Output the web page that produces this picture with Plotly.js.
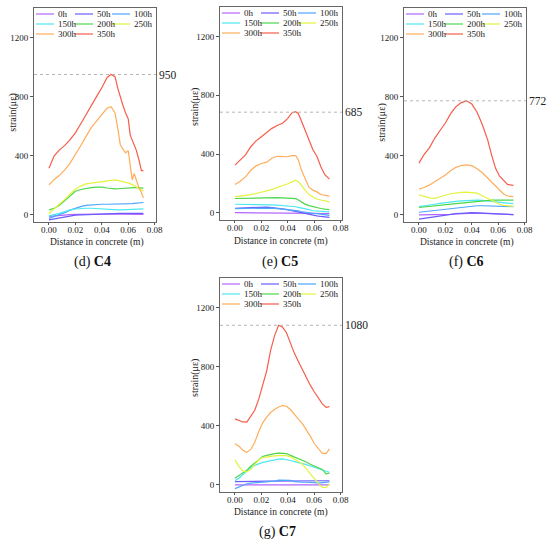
<!DOCTYPE html>
<html><head><meta charset="utf-8">
<script src="https://cdn.plot.ly/plotly-3.0.1.min.js"></script>
<style>html,body{margin:0;padding:0;background:#fff}#chart{width:550px;height:544px}</style>
</head><body><div id="chart"></div>
<script>
// ---------- data ----------
const seriesNames = ['0h','50h','100h','150h','200h','250h','300h','350h'];
const seriesColors = ['#b266ff','#6a5cff','#4da6ff','#4de8f0','#4cd64c','#e3f23f','#ffad5c','#f55d4a'];
const xTicks = [0, 0.02, 0.04, 0.06, 0.08];
const yTicks = [0, 400, 800, 1200];

// C4
const c4X    = [0,0.004,0.008,0.012,0.016,0.020,0.024,0.028,0.032,0.036,0.040,0.044,0.047,0.050,0.052,0.054,0.056,0.058,0.060,0.0615,0.063,0.0645,0.066,0.068,0.070,0.0715];
const c4S0   = [-10,-6,-3,0,2,3,4,5,6,7,7,7,6,6,5,5,5,5,5,5,4,4,4,4,4,4];
const c4S50  = [-34,-27,-20,-12,-6,-2,0,2,4,6,7,8,9,10,10,11,11,11,11,11,11,11,11,11,11,11];
const c4S100 = [-23,-12,0,15,32,45,56,64,68,71,72,72,72,72,72,72,73,74,75,75,76,78,80,82,84,84];
const c4S150 = [-7,0,10,22,34,40,45,45,45,42,38,36,34,34,34,34,35,36,37,38,38,39,40,40,41,41];
const c4S200 = [34,45,65,95,130,160,172,180,185,188,188,182,177,176,177,179,181,183,185,185,185,185,185,185,184,181];
const c4S250 = [10,40,70,105,140,175,195,210,215,220,225,230,235,237,234,228,224,220,217,213,205,198,190,180,170,160];
const c4S300 = [203,240,268,305,350,405,468,530,590,635,680,723,732,690,590,475,445,420,435,340,237,280,235,185,150,115];
const c4S350 = [316,400,440,470,510,555,615,680,740,800,860,930,950,935,860,790,740,690,650,540,508,470,440,375,300,300];

// C5
const c5X    = [0,0.004,0.008,0.012,0.016,0.020,0.024,0.028,0.032,0.036,0.040,0.043,0.046,0.048,0.050,0.053,0.056,0.059,0.062,0.065,0.068,0.0715];
const c5S0   = [2,2,2,2,1,1,1,1,0,0,0,0,-1,-1,-1,-2,-2,-3,-3,-4,-4,-5];
const c5S50  = [32,34,35,37,39,41,40,37,33,28,23,16,10,7,3,-6,-11,-16,-20,-24,-27,-30];
const c5S100 = [30,31,32,34,35,36,35,33,30,27,25,21,16,14,10,4,0,-3,-5,-8,-12,-16];
const c5S150 = [59,59,59,58,58,57,56,55,53,51,48,45,42,38,35,30,22,15,12,10,8,7];
const c5S200 = [98,99,100,102,104,105,105,105,104,102,100,99,97,88,75,60,50,42,35,30,26,23];
const c5S250 = [109,113,117,124,132,139,150,160,172,185,198,211,222,213,193,155,125,108,95,88,80,75];
const c5S300 = [193,215,245,290,320,336,345,372,385,385,382,390,390,360,300,235,175,155,143,125,118,114];
const c5S350 = [325,358,395,450,490,518,545,575,595,610,643,680,688,675,632,565,495,430,385,314,260,230];

// C6
const c6X    = [0,0.004,0.008,0.012,0.016,0.020,0.024,0.028,0.032,0.036,0.040,0.044,0.048,0.052,0.055,0.058,0.061,0.064,0.067,0.0715];
const c6S0   = [0,0,0,1,2,3,4,6,8,10,12,12,10,8,6,5,4,3,2,2];
const c6S50  = [-29,-23,-17,-11,-5,0,4,8,11,14,15,14,12,10,9,8,7,6,4,2];
const c6S100 = [18,22,27,32,37,41,45,49,53,57,60,62,62,61,60,59,58,57,56,56];
const c6S150 = [56,60,66,72,78,84,88,92,95,98,100,100,98,95,92,88,85,82,79,76];
const c6S200 = [50,53,56,60,64,68,72,76,80,84,88,92,96,98,100,100,100,100,100,100];
const c6S250 = [136,125,115,112,120,133,143,149,152,154,152,147,130,113,100,82,72,64,60,58];
const c6S300 = [174,185,203,226,245,270,298,322,334,339,333,312,285,249,222,192,163,142,128,124];
const c6S350 = [350,410,455,520,571,622,685,732,760,772,750,695,610,508,405,315,262,232,206,200];

// C7
const c7X    = [0,0.003,0.006,0.009,0.012,0.015,0.018,0.021,0.024,0.027,0.030,0.033,0.036,0.039,0.042,0.045,0.048,0.051,0.054,0.057,0.060,0.063,0.066,0.069,0.0715];
const c7S0   = [0,0,0,0,0,0,0,0,1,1,1,1,1,1,1,1,0,0,0,0,0,0,0,0,0];
const c7S50  = [22,23,24,25,25,25,25,25,25,25,25,25,25,25,25,25,25,25,25,25,25,25,25,25,28];
const c7S100 = [-25,-15,-2,8,12,14,15,15,16,18,25,32,33,33,30,22,18,18,18,18,15,12,14,18,20];
const c7S150 = [29,45,70,95,118,132,143,152,158,164,170,175,176,172,165,158,152,145,137,128,120,112,103,92,86];
const c7S200 = [45,62,80,100,126,150,172,192,200,208,212,215,215,212,200,190,180,168,155,140,128,118,105,75,80];
const c7S250 = [169,125,95,88,105,140,170,185,190,193,196,198,199,198,190,176,158,140,110,80,45,10,-15,-18,7];
const c7S300 = [278,262,235,220,240,289,360,420,458,490,510,527,537,532,510,481,445,415,375,330,280,245,215,212,244];
const c7S350 = [447,438,426,425,462,505,580,670,770,910,1010,1080,1068,1030,960,890,835,780,728,675,630,590,550,525,530];

const peakValues = [950, 685, 772, 1080];
const captionLetters = ['(d)', '(e)', '(f)', '(g)'];
const captionNames = ['C4', 'C5', 'C6', 'C7'];

// ---------- layout geometry (pixels) ----------
const W = 550, H = 544;
const panels = [
  {x: c4X, ys: [c4S0,c4S50,c4S100,c4S150,c4S200,c4S250,c4S300,c4S350], L: 34,  R: 156, T: 8,   B: 222, yt: [12.7,113], xt: [96.7,242.5], cap: [92,262]},
  {x: c5X, ys: [c5S0,c5S50,c5S100,c5S150,c5S200,c5S250,c5S300,c5S350], L: 220, R: 342, T: 7,   B: 220, yt: [195,107],  xt: [281,241],  cap: [280,262]},
  {x: c6X, ys: [c6S0,c6S50,c6S100,c6S150,c6S200,c6S250,c6S300,c6S350], L: 404, R: 526, T: 8,   B: 222, yt: [381.7,123],xt: [466.7,242.5], cap: [466,262]},
  {x: c7X, ys: [c7S0,c7S50,c7S100,c7S150,c7S200,c7S250,c7S300,c7S350], L: 220, R: 342, T: 278, B: 492, yt: [195,378],  xt: [280.7,512], cap: [277,532]}
];
const px = v => v / W;
const py = v => 1 - v / H;
const FONT = 'Liberation Serif';

const traces = [];
const shapes = [];
const annotations = [];
const layout = {
  width: W, height: H,
  margin: {l: 0, r: 0, t: 0, b: 0},
  paper_bgcolor: '#fff', plot_bgcolor: '#fff',
  showlegend: false,
  font: {family: FONT, color: '#222'}
};

panels.forEach((p, i) => {
  const n = i === 0 ? '' : String(i + 1);
  const xa = 'x' + n, ya = 'y' + n;
  layout['xaxis' + n] = {
    domain: [px(p.L), px(p.R)], anchor: ya,
    range: [-0.0113, 0.081], tickvals: xTicks, tickformat: '.2f',
    ticks: 'outside', ticklen: 2, tickcolor: '#555', tickwidth: 1,
    ticklabelstandoff: -3,
    showline: true, mirror: true, linecolor: '#666', linewidth: 1,
    showgrid: false, zeroline: false, fixedrange: true,
    tickfont: {family: FONT, size: 9, color: '#222'}
  };
  layout['yaxis' + n] = {
    domain: [py(p.B), py(p.T)], anchor: xa,
    range: [-48, 1400], tickvals: yTicks,
    ticks: 'outside', ticklen: 3, tickcolor: '#555', tickwidth: 1,
    showline: true, mirror: true, linecolor: '#666', linewidth: 1,
    showgrid: false, zeroline: false, fixedrange: true,
    tickfont: {family: FONT, size: 9, color: '#222'}
  };
  p.ys.forEach((ys, k) => {
    traces.push({
      type: 'scatter', mode: 'lines', x: p.x, y: ys, xaxis: xa, yaxis: ya,
      name: seriesNames[k], line: {color: seriesColors[k], width: 1.2}, hoverinfo: 'skip'
    });
  });
  // peak dotted line + label
  shapes.push({type: 'line', xref: xa + ' domain', yref: ya, x0: 0, x1: 1,
    y0: peakValues[i], y1: peakValues[i], line: {color: '#b5b5b5', width: 1, dash: 'dot'}});
  annotations.push({xref: 'paper', yref: ya, x: px(p.R + 1), y: peakValues[i],
    xanchor: 'left', yanchor: 'middle', showarrow: false, text: String(peakValues[i]),
    font: {family: FONT, size: 11.5, color: '#222'}});
  // axis titles
  annotations.push({xref: 'paper', yref: 'paper', x: px(p.yt[0]), y: py(p.yt[1]),
    xanchor: 'center', yanchor: 'middle', textangle: -90, showarrow: false,
    text: 'strain(με)', font: {family: FONT, size: 10, color: '#222'}});
  annotations.push({xref: 'paper', yref: 'paper', x: px(p.xt[0]), y: py(p.xt[1]),
    xanchor: 'center', yanchor: 'middle', showarrow: false,
    text: 'Distance in concrete (m)', font: {family: FONT, size: 9.5, color: '#222'}});
  annotations.push({xref: 'paper', yref: 'paper', x: px(p.cap[0]), y: py(p.cap[1]),
    xanchor: 'center', yanchor: 'middle', showarrow: false,
    text: captionLetters[i] + ' <b>' + captionNames[i] + '</b>', font: {family: FONT, size: 14, color: '#111'}});
  // legend (3 columns)
  const colStart = [2, 41, 78];
  seriesNames.forEach((name, k) => {
    const r = Math.floor(k / 3), c = k % 3;
    const yy = p.T + 6 + 10 * r;
    const x0 = p.L + colStart[c];
    shapes.push({type: 'line', xref: 'paper', yref: 'paper', x0: px(x0), x1: px(x0 + 18),
      y0: py(yy), y1: py(yy), line: {color: seriesColors[k], width: 1.2}});
    annotations.push({xref: 'paper', yref: 'paper', x: px(x0 + 20), y: py(yy),
      xanchor: 'left', yanchor: 'middle', showarrow: false, text: name,
      font: {family: FONT, size: 9, color: '#222'}});
  });
});

layout.shapes = shapes;
layout.annotations = annotations;
Plotly.newPlot('chart', traces, layout, {displayModeBar: false, staticPlot: true});
</script>
</body></html>
